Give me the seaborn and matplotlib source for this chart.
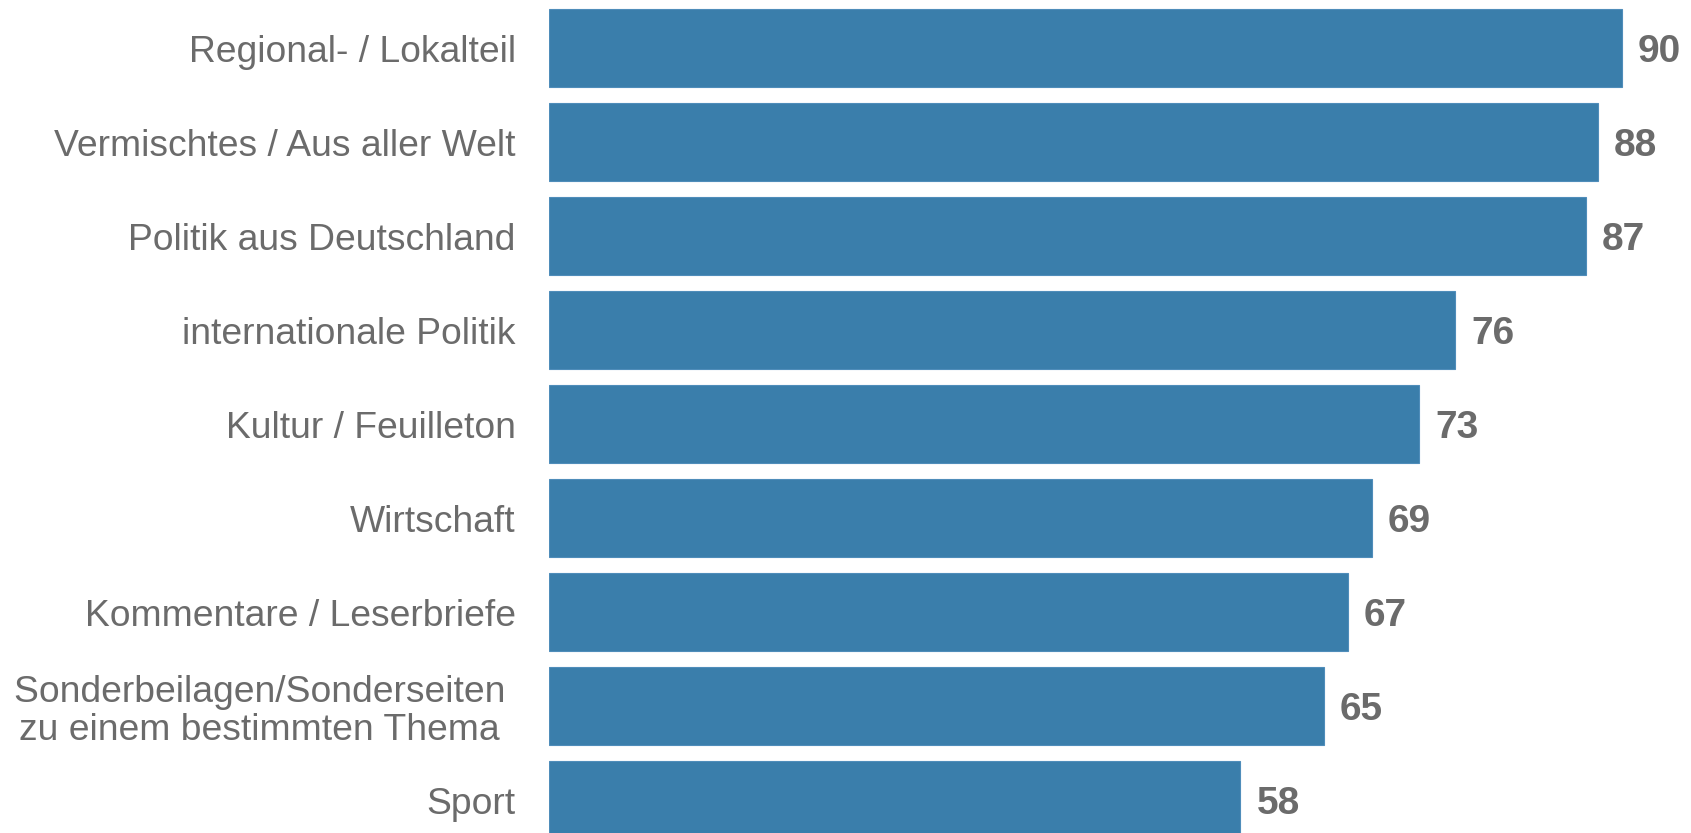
import matplotlib
matplotlib.use("Agg")
import matplotlib.pyplot as plt
import seaborn as sns
import pandas as pd

categories = [
    "Regional- / Lokalteil",
    "Vermischtes / Aus aller Welt",
    "Politik aus Deutschland",
    "internationale Politik",
    "Kultur / Feuilleton",
    "Wirtschaft",
    "Kommentare / Leserbriefe",
    "Sonderbeilagen/Sonderseiten\u00a0\nzu einem bestimmten Thema\u00a0",
    "Sport",
]
values = [90, 88, 87, 76, 73, 69, 67, 65, 58]

BAR_COLOR = "#3a7eab"
TEXT_COLOR = "#6b6b6b"

sns.set_theme(style="white")
plt.rcParams["font.family"] = ["Liberation Sans", "DejaVu Sans"]

df = pd.DataFrame({"Rubrik": categories, "Wert": values})

W, H, DPI = 1691, 833, 100
fig = plt.figure(figsize=(W / DPI, H / DPI), dpi=DPI)
# axes placed in pixel units: left edge of bars, top of first bar slot
left_px, top_px, slot_px = 549, 1.3, 94
n = len(categories)
ax_h = n * slot_px
ax = fig.add_axes([left_px / W, (H - top_px - ax_h) / H, (W - left_px) / W, ax_h / H])

sns.barplot(data=df, x="Wert", y="Rubrik", orient="h", color=BAR_COLOR,
            saturation=1, width=0.83, edgecolor="#4f8dba", linewidth=0.8, ax=ax)

ax.set_xlim(0, (W - left_px) / ((1622 - left_px) / 90))
ax.set_ylim(n - 0.5, -0.5)
ax.set_xlabel("")
ax.set_ylabel("")
ax.set_xticks([])
for s in ax.spines.values():
    s.set_visible(False)
ax.tick_params(axis="y", length=0, pad=24, labelsize=26.8, labelcolor=TEXT_COLOR)
for lbl in ax.get_yticklabels():
    lbl.set_multialignment("center")
    lbl.set_linespacing(1.1)

for container in ax.containers:
    anns = ax.bar_label(container, labels=[f"{v:d}" for v in values], padding=11.5,
                        fontsize=28, fontweight="bold", color=TEXT_COLOR)
    for a in anns:
        a.set_va("center_baseline")

fig.savefig("out.png", dpi=DPI)
